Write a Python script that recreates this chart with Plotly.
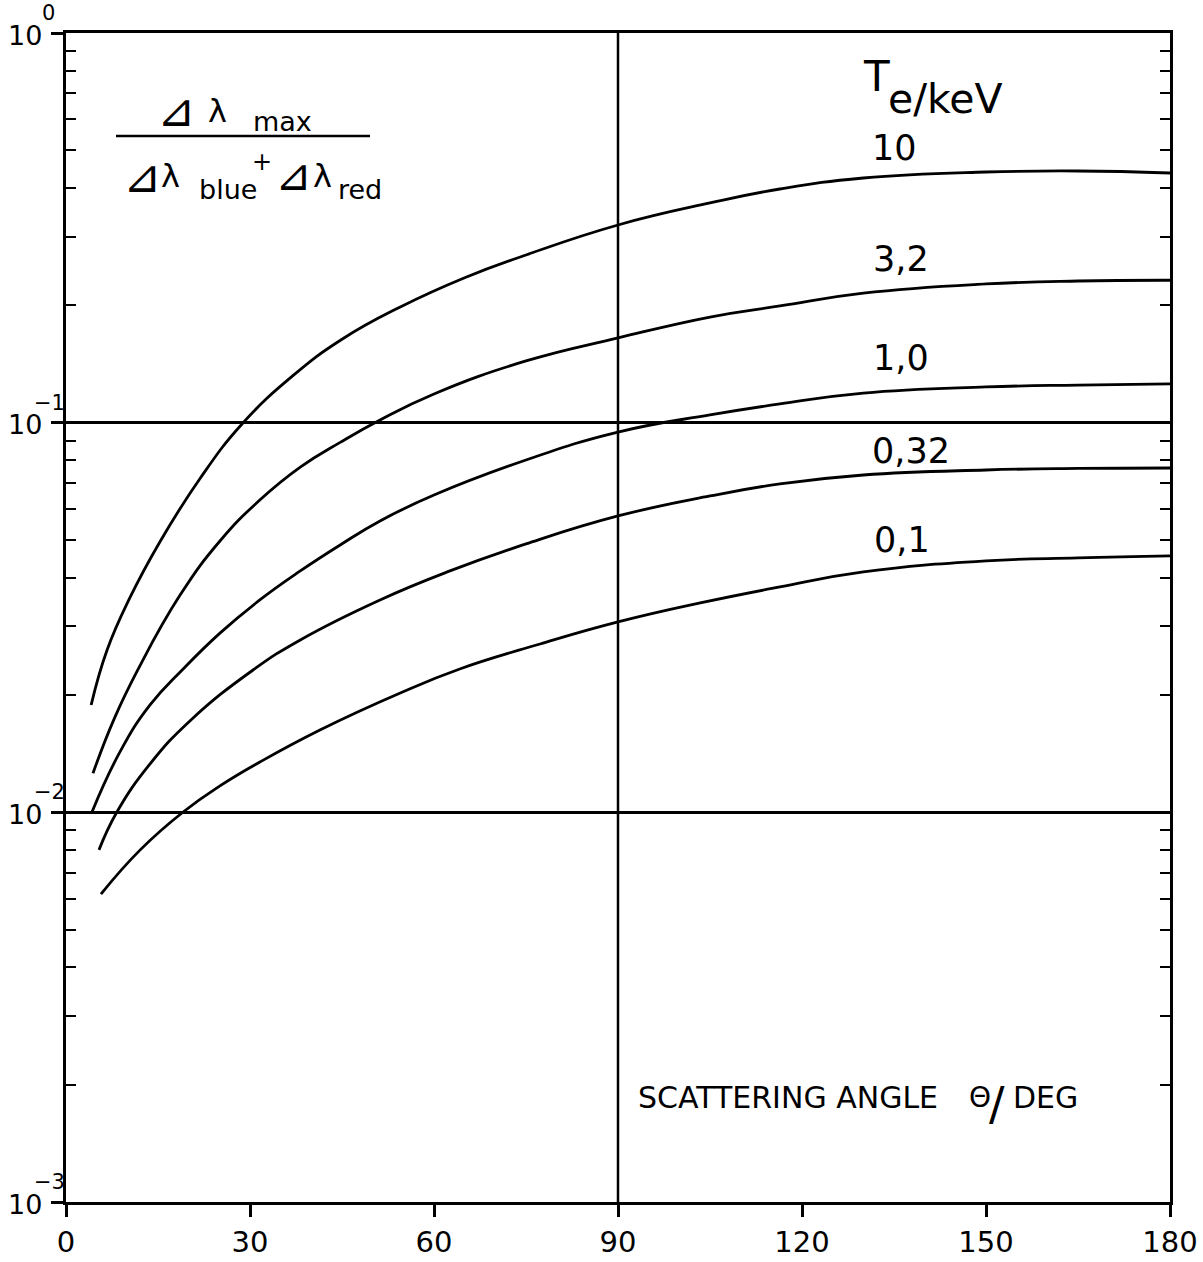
import math
import plotly.graph_objects as go

# ---- data ----
angle_10 = [4.1, 6.7, 10.4, 15.3, 21.8, 28.7, 37.0, 45.0, 54.5, 65, 75, 90, 105, 116.4, 130, 150, 165, 180]
ratio_10 = [0.01886, 0.0261, 0.0355, 0.04942, 0.0717, 0.0992, 0.132, 0.1637, 0.1981, 0.2355,
            0.2694, 0.3216, 0.3663, 0.3978, 0.4245, 0.4398, 0.4424, 0.4372]

angle_32 = [4.4, 7.8, 11.7, 18.6, 25.1, 31.6, 38.2, 44.7, 51.2, 60, 75, 90, 105, 116.4, 130, 150, 165, 180]
ratio_32 = [0.0126, 0.0173, 0.0232, 0.0361, 0.0497, 0.0633, 0.0769, 0.0890, 0.1016, 0.1185,
            0.144, 0.165, 0.1867, 0.1993, 0.215, 0.227, 0.231, 0.232]

angle_1 = [4.24, 8.8, 13.7, 19.1, 25.1, 31.6, 38.2, 44.7, 51.2, 60, 75, 90, 105, 116.4, 130, 150, 165, 180]
ratio_1 = [0.01002, 0.01429, 0.01886, 0.02333, 0.02884, 0.03508, 0.04164, 0.04855, 0.05596,
           0.0652, 0.0802, 0.0946, 0.1047, 0.1117, 0.1191, 0.1235, 0.1249, 0.1257]

angle_032 = [5.38, 8.3, 13.7, 20.2, 30.5, 38.2, 51.2, 62.6, 75, 90, 105, 116.4, 130, 150, 165, 180]
ratio_032 = [0.00801, 0.01002, 0.01331, 0.01716, 0.02319, 0.02770, 0.03508, 0.04164, 0.04884,
             0.05762, 0.06484, 0.06963, 0.07341, 0.07561, 0.0763, 0.07651]

angle_01 = [5.7, 12.1, 19.1, 25.1, 31.6, 41.4, 54.5, 64.2, 77.3, 90, 103.4, 116.4, 130, 150, 165, 180]
ratio_01 = [0.00617, 0.00801, 0.01002, 0.01169, 0.01346, 0.01627, 0.02025, 0.02333, 0.02704,
            0.03080, 0.03446, 0.03788, 0.04139, 0.04418, 0.04497, 0.0455]

curve_labels = ["10", "3,2", "1,0", "0,32", "0,1"]
x_ticks = [0, 30, 60, 90, 120, 150, 180]
y_ticks = [1e-3, 1e-2, 1e-1, 1]
y_exponents = ["\u22123", "\u22122", "\u22121", "0"]

FONT = "DejaVu Sans"
W, H = 1203, 1262
L, R, T, B = 66, 33, 33, 60
PW, PH = W - L - R, H - T - B


def px(xp):
    return (xp - L) / PW


def py(yp):
    return 1 - (yp - T) / PH


fig = go.Figure()
for xs, ys in [(angle_10, ratio_10), (angle_32, ratio_32), (angle_1, ratio_1),
               (angle_032, ratio_032), (angle_01, ratio_01)]:
    fig.add_trace(go.Scatter(x=xs, y=ys, mode="lines",
                             line=dict(color="black", width=2.8, shape="spline", smoothing=1.3),
                             showlegend=False, hoverinfo="skip"))

# dummy trace for right-hand minor tick axis
fig.add_trace(go.Scatter(x=[None], y=[None], yaxis="y2", showlegend=False, hoverinfo="skip"))

minor_vals = [k * 10 ** e for e in (-3, -2, -1) for k in range(2, 10)]

fig.update_layout(
    width=W, height=H,
    margin=dict(l=L, r=R, t=T, b=B),
    paper_bgcolor="white", plot_bgcolor="white",
    font=dict(family=FONT, color="black"),
    xaxis=dict(range=[0, 180], tickmode="array", tickvals=x_ticks, ticks="outside",
               ticklen=12, tickwidth=2.5, tickcolor="black", showline=True, linewidth=3,
               linecolor="black", mirror=True, showgrid=False, zeroline=False,
               automargin=False,
               tickfont=dict(family=FONT, size=29, color="black")),
    yaxis=dict(type="log", range=[-3, 0], tickmode="array", tickvals=y_ticks,
               showticklabels=False, ticks="outside", ticklen=12, tickwidth=2.5,
               tickcolor="black", showline=True, linewidth=3, linecolor="black",
               mirror=True, showgrid=True, gridcolor="black", gridwidth=2.5,
               zeroline=False, automargin=False,
               minor=dict(tickmode="array", tickvals=minor_vals, ticks="inside",
                          ticklen=10, tickwidth=2.2, tickcolor="black", showgrid=False)),
    yaxis2=dict(type="log", range=[-3, 0], overlaying="y", side="right",
                showticklabels=False, ticks="", showgrid=False, showline=False,
                zeroline=False, automargin=False,
                minor=dict(tickmode="array", tickvals=minor_vals, ticks="inside",
                           ticklen=10, tickwidth=2.2, tickcolor="black", showgrid=False)),
)

# vertical line at 90 deg
fig.add_shape(type="line", xref="x", yref="paper", x0=90, x1=90, y0=0, y1=1,
              line=dict(color="black", width=2.5))
# fraction bar
fig.add_shape(type="line", xref="paper", yref="paper", x0=px(116), x1=px(370),
              y0=py(136), y1=py(136), line=dict(color="black", width=2.5))


def ann(text, x, y, size, xanchor="left", yanchor="middle"):
    fig.add_annotation(text=text, xref="paper", yref="paper", x=px(x), y=py(y),
                       xanchor=xanchor, yanchor=yanchor, showarrow=False,
                       font=dict(family=FONT, size=size, color="black"))


# y tick labels: "10" with raised exponent, tied to the tick values
for v, e in zip(y_ticks, y_exponents):
    fig.add_annotation(text="10", xref="paper", x=px(44), xanchor="right",
                       yref="y", y=math.log10(v), yanchor="middle", yshift=-2,
                       showarrow=False, font=dict(family=FONT, size=27, color="black"))
    fig.add_annotation(text=e, xref="paper", x=px(40 if e == "0" else 32), xanchor="left",
                       yref="y", y=math.log10(v), yanchor="middle", yshift=20,
                       showarrow=False, font=dict(family=FONT, size=21, color="black"))

# curve labels
label_pos = [(870, 148), (871, 259), (871, 358), (870, 451), (872, 540)]
for lab, (lx, ly) in zip(curve_labels, label_pos):
    ann(lab, lx, ly, 35)

ann("T", 861, 76, 42)
ann("e/keV", 886, 99, 41)

# y-quantity fraction
ann("⊿", 176, 110, 46, xanchor="center")
ann("λ", 217, 111, 32, xanchor="center")
ann("max", 251, 121, 27)
ann("⊿", 142, 176, 46, xanchor="center")
ann("λ", 170, 176, 32, xanchor="center")
ann("blue", 197, 189, 27)
ann("+", 262, 162, 24, xanchor="center")
ann("⊿", 293, 174, 44, xanchor="center")
ann("λ", 322, 176, 32, xanchor="center")
ann("red", 336, 189, 27)

# x-quantity
ann("SCATTERING ANGLE", 636, 1097, 30)
ann("Θ", 980, 1097, 28, xanchor="center")
ann("/", 997, 1104, 46, xanchor="center")
ann("DEG", 1011, 1097, 30)

fig.write_html("out.html")
